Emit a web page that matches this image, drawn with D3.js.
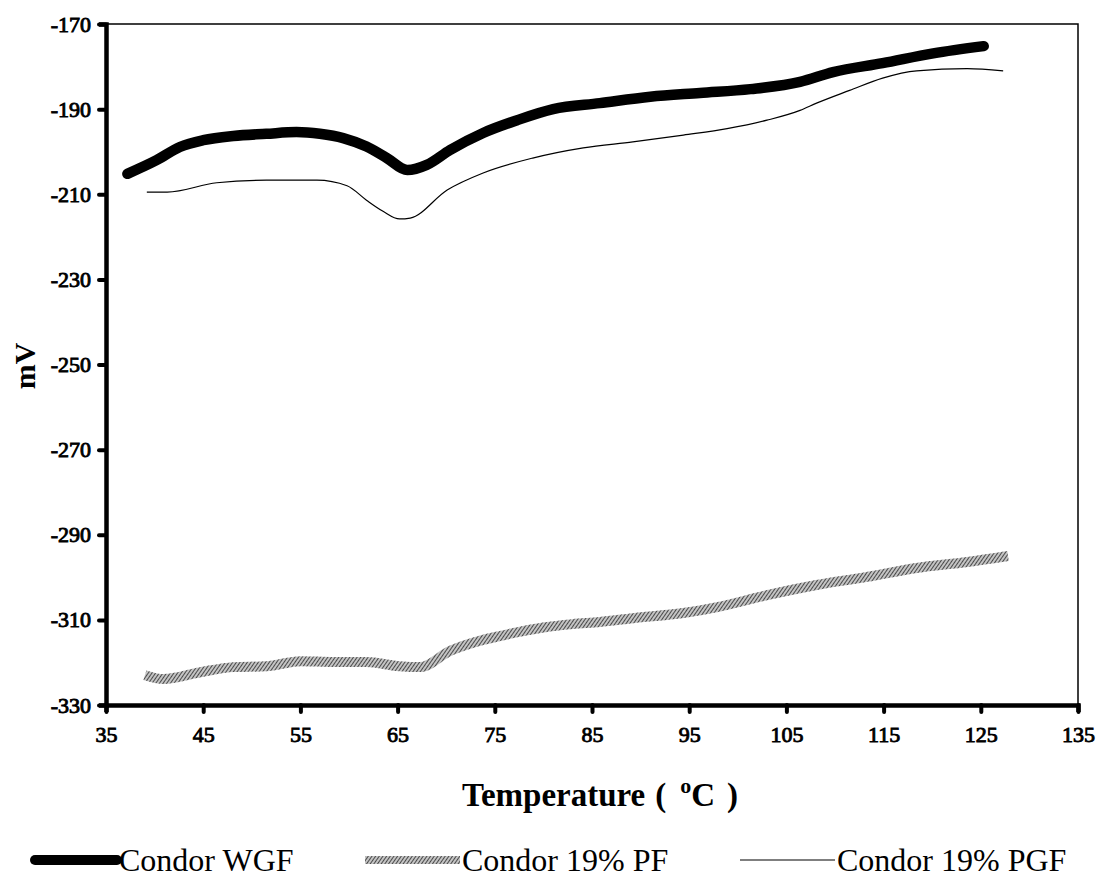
<!DOCTYPE html>
<html>
<head>
<meta charset="utf-8">
<script src="https://cdn.jsdelivr.net/npm/d3@7/dist/d3.min.js"></script>
<style>
  body { margin: 0; background: #fff; }
  svg text { font-family: "Liberation Serif", "Times New Roman", serif; fill: #000; }
</style>
</head>
<body>
<div id="chart"></div>
<script>
// Temperature (°C) and mV readings
var wgf_temp = [37.2, 40.2, 42.6, 45, 48.1, 51.5, 54.6, 57, 59.4, 61.8, 63.9, 66, 68, 70.4, 73.8, 77.3, 81, 85.8, 91, 96.1, 101.3, 106.4, 109.8, 114.9, 120.1, 125.3];
var wgf_mv   = [-205.2, -202, -198.9, -197.3, -196.3, -195.8, -195.4, -195.8, -196.8, -198.8, -201.5, -204.3, -203.1, -199.6, -195.6, -192.6, -190, -188.6, -187.1, -186.2, -185.3, -183.6, -181.3, -179.2, -176.9, -175.2];

var pf_temp = [39, 40.9, 44.7, 48.1, 51.5, 55, 58.4, 61.8, 65.2, 67.3, 70.4, 73.8, 75.5, 80, 83, 85.8, 89.2, 94.4, 97.9, 103, 108.1, 113.3, 118.4, 123.6, 127.8];
var pf_mv   = [-323, -323.9, -322.3, -321.1, -320.9, -319.7, -319.9, -319.9, -320.9, -321.1, -317.3, -314.7, -313.8, -311.8, -311, -310.5, -309.6, -308.4, -307, -304.2, -301.8, -299.9, -297.8, -296.4, -295];

var pgf_temp = [39.2, 41.3, 46.4, 51.5, 56.7, 59.8, 61.8, 63.5, 65.2, 66.3, 70.1, 73.8, 78.9, 84.1, 89.2, 94.4, 98.9, 103, 106.4, 108.1, 111.5, 114.9, 118.4, 123.6, 127.3];
var pgf_mv   = [-209.5, -209.5, -207.3, -206.7, -206.7, -208, -211.4, -214, -215.8, -215.6, -209, -205, -201.5, -199.1, -197.7, -196.1, -194.6, -192.6, -190.3, -188.6, -185.6, -182.7, -181, -180.5, -181];

var x_ticks = [35, 45, 55, 65, 75, 85, 95, 105, 115, 125, 135];
var y_ticks = [-170, -190, -210, -230, -250, -270, -290, -310, -330];

var series_names = ["Condor WGF", "Condor 19% PF", "Condor 19% PGF"];

var width = 1098, height = 895;
var margin = { left: 106, right: 20, top: 24, bottom: 190 };

var svg = d3.select("#chart").append("svg")
    .attr("width", width)
    .attr("height", height);

// hatch used for the grey PF trace
var defs = svg.append("defs");
var hatch = defs.append("pattern")
    .attr("id", "hatch")
    .attr("patternUnits", "userSpaceOnUse")
    .attr("width", 3)
    .attr("height", 3)
    .attr("patternTransform", "rotate(35)");
hatch.append("rect").attr("width", 3).attr("height", 3).attr("fill", "#c4c4c4");
hatch.append("rect").attr("width", 1).attr("height", 3).attr("fill", "#4a4a4a");

var x = d3.scaleLinear().domain([35, 135]).range([margin.left, width - margin.right]);
var y = d3.scaleLinear().domain([-330, -170]).range([height - margin.bottom, margin.top]);

// thin frame on top and right
svg.append("path")
    .attr("d", "M" + x(35) + "," + y(-170) + "H" + x(135) + "V" + y(-330))
    .attr("fill", "none")
    .attr("stroke", "#000")
    .attr("stroke-width", 1.5);

var line = d3.line()
    .x(function(d) { return x(d[0]); })
    .y(function(d) { return y(d[1]); })
    .curve(d3.curveMonotoneX);

function pairs(t, v) { return t.map(function(d, i) { return [d, v[i]]; }); }

svg.append("path")
    .datum(pairs(pf_temp, pf_mv))
    .attr("d", line)
    .attr("fill", "none")
    .attr("stroke", "url(#hatch)")
    .attr("stroke-width", 10);

svg.append("path")
    .datum(pairs(pgf_temp, pgf_mv))
    .attr("d", line)
    .attr("fill", "none")
    .attr("stroke", "#000")
    .attr("stroke-width", 1.2);

svg.append("path")
    .datum(pairs(wgf_temp, wgf_mv))
    .attr("d", line)
    .attr("fill", "none")
    .attr("stroke", "#000")
    .attr("stroke-width", 10.5)
    .attr("stroke-linecap", "round")
    .attr("stroke-linejoin", "round");

// Axes (plain hyphen minus, as in the original)
var fmt = function(d) { return String(d); };
var xAxis = svg.append("g")
    .attr("transform", "translate(0," + y(-330) + ")")
    .call(d3.axisBottom(x).tickValues(x_ticks).tickFormat(fmt).tickSize(7).tickPadding(14));
var yAxis = svg.append("g")
    .attr("transform", "translate(" + x(35) + ",0)")
    .call(d3.axisLeft(y).tickValues(y_ticks).tickFormat(fmt).tickSize(7).tickPadding(8));

[xAxis, yAxis].forEach(function(g) {
    g.select(".domain").attr("stroke-width", 4.5).attr("stroke", "#000");
    g.selectAll(".tick line").attr("stroke-width", 4).attr("stroke-linecap", "round").attr("stroke", "#000");
    g.selectAll(".tick text")
        .attr("font-family", "Liberation Serif")
        .attr("font-size", 22)
        .attr("fill", "#000")
        .attr("stroke", "#000")
        .attr("stroke-width", 0.9);
});

// Axis titles
var title = svg.append("text")
    .attr("x", 600)
    .attr("y", 806)
    .attr("text-anchor", "middle")
    .attr("font-size", 33)
    .attr("font-weight", "bold");
title.append("tspan").text("Temperature");
title.append("tspan").attr("dx", 10).text("(");
title.append("tspan").attr("dx", 14).attr("dy", -13).attr("font-size", 22).text("o");
title.append("tspan").attr("dy", 13).text("C");
title.append("tspan").attr("dx", 12).text(")");

svg.append("text")
    .attr("transform", "translate(35,366) rotate(-90)")
    .attr("text-anchor", "middle")
    .attr("font-size", 30)
    .attr("font-weight", "bold")
    .text("mV");

// Legend
var legend_x = [35, 365, 740];
var legend_len = [82, 95, 95];
var legend = svg.append("g").attr("transform", "translate(0,860)");
series_names.forEach(function(name, i) {
    var g = legend.append("g").attr("transform", "translate(" + legend_x[i] + ",0)");
    var l = g.append("line")
        .attr("x1", 0).attr("x2", legend_len[i])
        .attr("y1", 0).attr("y2", 0);
    if (i === 0) l.attr("stroke", "#000").attr("stroke-width", 10).attr("stroke-linecap", "round");
    else if (i === 1) l.attr("stroke", "url(#hatch)").attr("stroke-width", 8);
    else l.attr("stroke", "#000").attr("stroke-width", 1.2);
    g.append("text")
        .attr("x", legend_len[i] + 2)
        .attr("y", 11)
        .attr("font-size", 32)
        .text(name);
});
</script>
</body>
</html>
